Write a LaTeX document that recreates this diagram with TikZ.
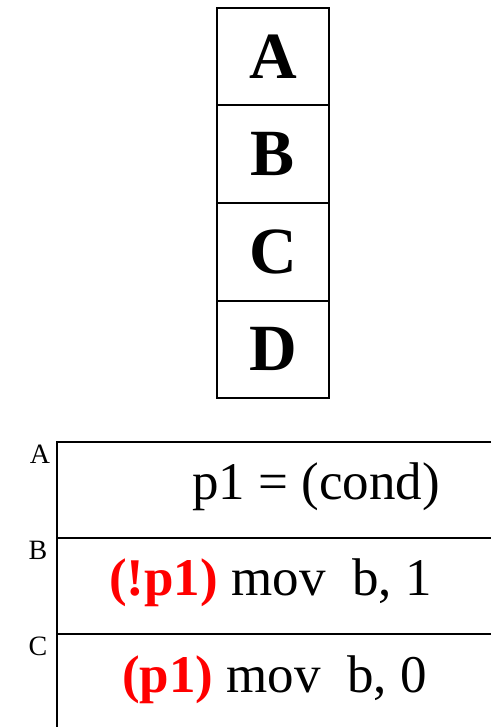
\documentclass[tikz,border=0pt]{standalone}
\usepackage{fontspec}
\setmainfont{Liberation Serif}
\usetikzlibrary{positioning}
\tikzset{
  slot/.style={draw,line width=2pt,outer sep=0pt,minimum width=112pt,minimum height=97.5pt,inner sep=0pt,
    font=\fontsize{66}{66}\selectfont\bfseries},
  rowlbl/.style={font=\fontsize{28}{28}\selectfont},
  instr/.style={anchor=base west,inner sep=0pt,font=\fontsize{53}{53}\selectfont}
}
\begin{document}
\begin{tikzpicture}[x=1pt,y=-1pt]
  \useasboundingbox (0,0) rectangle (491,727);
  \node[slot] (sa) at (273,56.75) {A};
  \node[slot,below=0pt of sa] (sb) {B};
  \node[slot,below=0pt of sb] (sc) {C};
  \node[slot,below=0pt of sc] (sd) {D};
  \coordinate (tl) at (57,442);
  \coordinate (tr) at (491,442);
  \coordinate (ml) at (57,538);
  \coordinate (mr) at (491,538);
  \coordinate (bl) at (57,634);
  \coordinate (br) at (491,634);
  \coordinate (el) at (57,727);
  \draw[line width=2.2pt] (tr) -- (tl) -- (el);
  \draw[line width=2.2pt] (ml) -- (mr);
  \draw[line width=2.2pt] (bl) -- (br);
  \node[rowlbl] (la) at (40,454) {A};
  \node[rowlbl] (lb) at (38,550) {B};
  \node[rowlbl] (lc) at (38,646) {C};
  \node[instr] (ia) at (192,499) {p1 = (cond)};
  \node[instr] (ib) at (109,595) {\textcolor{red}{\bfseries(!p1)} mov\ \ b, 1};
  \node[instr] (ic) at (122,692) {\textcolor{red}{\bfseries(p1)} mov\ \ b, 0};
\end{tikzpicture}
\end{document}
